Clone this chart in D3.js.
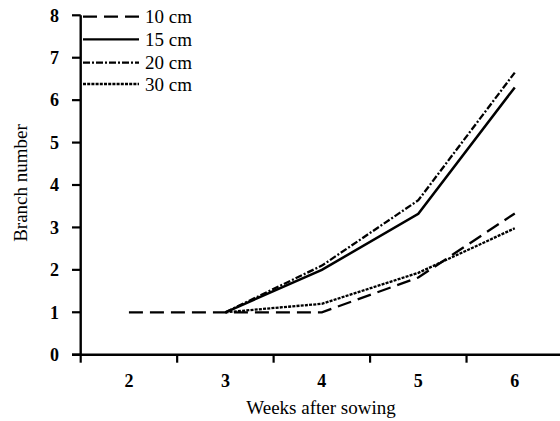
<!DOCTYPE html>
<html>
<head>
<meta charset="utf-8">
<script src="https://cdn.jsdelivr.net/npm/d3@7"></script>
<style>
  html, body { margin: 0; padding: 0; background: #fff; }
  svg { display: block; }
</style>
</head>
<body>
<svg id="chart" width="560" height="421"></svg>
<script>
const weeks = ["2", "3", "4", "5", "6"];
const seriesNames = ["10 cm", "15 cm", "20 cm", "30 cm"];
const values10 = [1.0, 1.0, 1.0, 1.82, 3.33];
const values15 = [null, 1.0, 2.0, 3.32, 6.3];
const values20 = [null, 1.0, 2.1, 3.64, 6.65];
const values30 = [null, 1.0, 1.2, 1.93, 2.98];
const yTicks = [0, 1, 2, 3, 4, 5, 6, 7, 8];

const dashes = ["14,7", null, "7,2,2,2", "3,1.2"];
const allValues = [values10, values15, values20, values30];

const svg = d3.select("#chart");
const mLeft = 80.7, mRight = 563, mTop = 15.3, mBottom = 354.7;
const serif = "Liberation Serif, Times New Roman, serif";

const x = d3.scaleBand().domain(weeks).range([mLeft, mRight]).paddingInner(0).paddingOuter(0);
const y = d3.scaleLinear().domain([0, 8]).range([mBottom, mTop]);

// x axis
const xAxis = svg.append("g").attr("transform", `translate(0,${mBottom})`);
xAxis.append("line").attr("x1", 72).attr("x2", 560).attr("y1", 0).attr("y2", 0)
  .attr("stroke", "#000").attr("stroke-width", 2.4);
weeks.forEach(w => {
  xAxis.append("line").attr("x1", x(w)).attr("x2", x(w)).attr("y1", 0).attr("y2", 8)
    .attr("stroke", "#000").attr("stroke-width", 2.2);
  xAxis.append("text").attr("x", x(w) + x.bandwidth() / 2).attr("y", 32.5)
    .attr("text-anchor", "middle")
    .attr("font-family", serif)
    .attr("font-weight", "bold").attr("font-size", 18).text(w);
});

// y axis
const yAxis = svg.append("g");
yAxis.append("line").attr("x1", mLeft).attr("x2", mLeft).attr("y1", y(8)).attr("y2", mBottom)
  .attr("stroke", "#000").attr("stroke-width", 2.4);
yTicks.forEach(t => {
  yAxis.append("line").attr("x1", 72).attr("x2", mLeft).attr("y1", y(t)).attr("y2", y(t))
    .attr("stroke", "#000").attr("stroke-width", 2.2);
  yAxis.append("text").attr("x", 59).attr("y", y(t)).attr("dy", "0.35em")
    .attr("text-anchor", "end")
    .attr("font-family", serif)
    .attr("font-weight", "bold").attr("font-size", 18).text(t);
});

// titles
svg.append("text").attr("x", 321).attr("y", 414).attr("text-anchor", "middle")
  .attr("font-family", serif)
  .attr("font-size", 19).text("Weeks after sowing");
svg.append("text").attr("transform", `translate(27,183) rotate(-90)`)
  .attr("text-anchor", "middle")
  .attr("font-family", serif)
  .attr("font-size", 19).text("Branch number");

// lines
const line = d3.line()
  .defined(d => d.v !== null)
  .x(d => x(d.w) + x.bandwidth() / 2)
  .y(d => y(d.v));

allValues.forEach((vals, i) => {
  const data = weeks.map((w, j) => ({ w, v: vals[j] }));
  svg.append("path").datum(data).attr("d", line)
    .attr("fill", "none").attr("stroke", "#000")
    .attr("stroke-width", i === 1 ? 2.5 : 2.3)
    .attr("stroke-dasharray", dashes[i]);
});

// legend
const legendY = [16.7, 39.3, 62.7, 84];
seriesNames.forEach((name, i) => {
  svg.append("line").attr("x1", 83).attr("x2", 139).attr("y1", legendY[i]).attr("y2", legendY[i])
    .attr("stroke", "#000").attr("stroke-width", 2.3)
    .attr("stroke-dasharray", dashes[i]);
  svg.append("text").attr("x", 145).attr("y", legendY[i]).attr("dy", "0.35em")
    .attr("font-family", serif)
    .attr("font-size", 19).text(name);
});
</script>
</body>
</html>
